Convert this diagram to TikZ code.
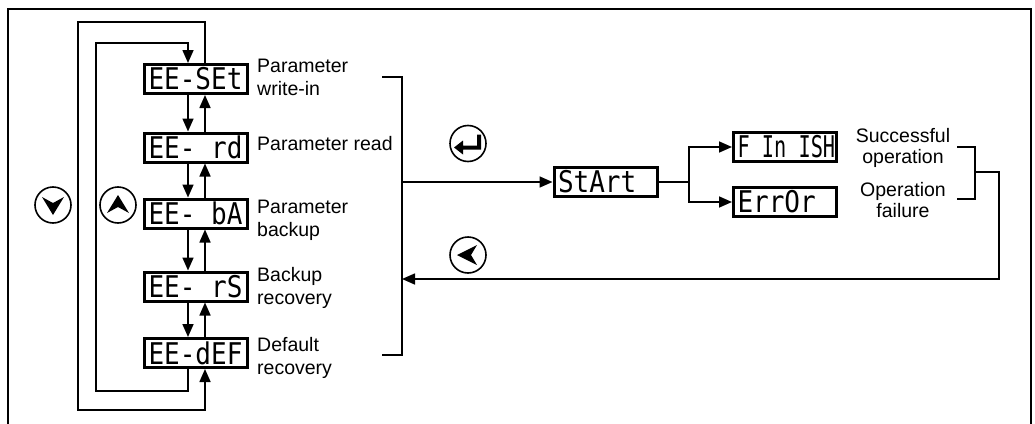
\documentclass[tikz,border=0pt]{standalone}
\usepackage{fontspec}
\setmainfont{Liberation Sans}
\newfontfamily\segfont{DejaVu Sans Mono}
\usetikzlibrary{arrows.meta}
\newcommand\segtxt[2][95pt]{\makebox[#1][l]{\scalebox{1}[1.15]{#2}}}
\tikzset{
  seg/.style={draw, line width=3pt, minimum width=103pt, minimum height=29pt,
    inner sep=0pt, font=\segfont\fontsize{26}{26}\selectfont},
  conn/.style={line width=1.6pt, -{Triangle[length=13pt,width=11pt]}},
  plain/.style={line width=1.6pt},
  lbl/.style={font=\fontsize{19.5}{23}\selectfont, inner sep=0pt, align=left},
  lblc/.style={font=\fontsize{19.5}{21}\selectfont, inner sep=0pt, align=center},
  btn/.style={circle, draw, line width=1.6pt, minimum size=36pt, inner sep=0pt},
  frame/.style={line width=2.6pt}
}
\begin{document}
\begin{tikzpicture}[x=1pt,y=-1pt]
\useasboundingbox (0,0) rectangle (1035,423);
\clip (0,0) rectangle (1035,423);
\draw[frame] (8,9) rectangle (1031,445);

% display boxes
\node[seg] (set) at (196,79)    {\segtxt{EE-SEt}};
\node[seg] (rd)  at (196,147.5) {\segtxt{EE- rd}};
\node[seg] (ba)  at (196,213.5) {\segtxt{EE- bA}};
\node[seg] (rs)  at (196,286.5) {\segtxt{EE- rS}};
\node[seg] (def) at (196,353)   {\segtxt{EE-dEF}};
\node[seg] (start)  at (605.5,182) {\segtxt{StArt}};
\node[seg] (finish) at (785,147)   {\segtxt{\scalebox{0.78}[1]{F In ISH}}};
\node[seg] (error)  at (785,202)   {\segtxt{ErrOr}};

% labels
\node[lbl, anchor=north west] (l1) at (257,59)  {Parameter\\write-in};
\node[lbl, anchor=base west]  (l2) at (257,150) {Parameter read};
\node[lbl, anchor=north west] (l3) at (257,200) {Parameter\\backup};
\node[lbl, anchor=north west] (l4) at (257,267) {Backup\\recovery};
\node[lbl, anchor=north west] (l5) at (257,337) {Default\\recovery};
\node[lblc, anchor=north] (l6) at (903,128) {Successful\\operation};
\node[lblc, anchor=north] (l7) at (903,182) {Operation\\failure};

% arrows between boxes
\foreach \a/\b in {set/rd, rd/ba, ba/rs, rs/def}{
  \draw[conn] ([xshift=-8pt]\a.south) -- ([xshift=-8pt]\b.north);
  \draw[conn] ([xshift=9pt]\b.north) -- ([xshift=9pt]\a.south);
}

% loops
\coordinate (il1) at (96,391);
\coordinate (il2) at (96,43);
\draw[conn] ([xshift=-8pt]def.south) |- (il1) -- (il2) -| ([xshift=-8pt]set.north);
\coordinate (ol1) at (78,22);
\coordinate (ol2) at (78,410);
\draw[conn] ([xshift=9pt]set.north) |- (ol1) -- (ol2) -| ([xshift=9pt]def.south);

% buttons
\node[btn] (bdown) at (53,205) {};
\fill ([shift={(-11,-8)}]bdown.center) -- ([shift={(0,10)}]bdown.center)
   -- ([shift={(11,-8)}]bdown.center) -- ([shift={(0,-2)}]bdown.center) -- cycle;
\node[btn] (bup) at (118,205) {};
\fill ([shift={(-11,8)}]bup.center) -- ([shift={(0,-10)}]bup.center)
   -- ([shift={(11,8)}]bup.center) -- ([shift={(0,2)}]bup.center) -- cycle;
\node[btn] (benter) at (468,143.5) {};
\fill ([shift={(9,-9)}]benter.center) -- ([shift={(13,-9)}]benter.center)
   -- ([shift={(13,6)}]benter.center) -- ([shift={(-5,6)}]benter.center)
   -- ([shift={(-5,11)}]benter.center) -- ([shift={(-14,4)}]benter.center)
   -- ([shift={(-5,-3)}]benter.center) -- ([shift={(-5,2)}]benter.center)
   -- ([shift={(9,2)}]benter.center) -- cycle;
\node[btn] (bback) at (468,255) {};
\fill ([shift={(-11,0)}]bback.center) -- ([shift={(9,-10)}]bback.center)
   -- ([shift={(3,0)}]bback.center) -- ([shift={(9,10)}]bback.center) -- cycle;

% left bracket and main flow
\coordinate (lbt) at (382,77);
\coordinate (lbtc) at (402,77);
\coordinate (lbbc) at (402,355);
\coordinate (lbb) at (382,355);
\draw[plain] (lbt) -- (lbtc) -- (lbbc) -- (lbb);
\coordinate (lbm) at (402,182);
\draw[conn] (lbm) -- (start.west);
\coordinate (split) at (689,182);
\draw[plain] (start.east) -- (split);
\draw[conn] (split) |- (finish.west);
\draw[conn] (split) |- (error.west);

% right bracket and return
\coordinate (rbt) at (957,147);
\coordinate (rbtc) at (975,147);
\coordinate (rbbc) at (975,199);
\coordinate (rbb) at (957,199);
\draw[plain] (rbt) -- (rbtc) -- (rbbc) -- (rbb);
\coordinate (rbm) at (975,172);
\coordinate (rc1) at (999,172);
\coordinate (rc2) at (999,279);
\coordinate (lbr) at (402,279);
\draw[conn] (rbm) -- (rc1) -- (rc2) -- (lbr);
\end{tikzpicture}
\end{document}
